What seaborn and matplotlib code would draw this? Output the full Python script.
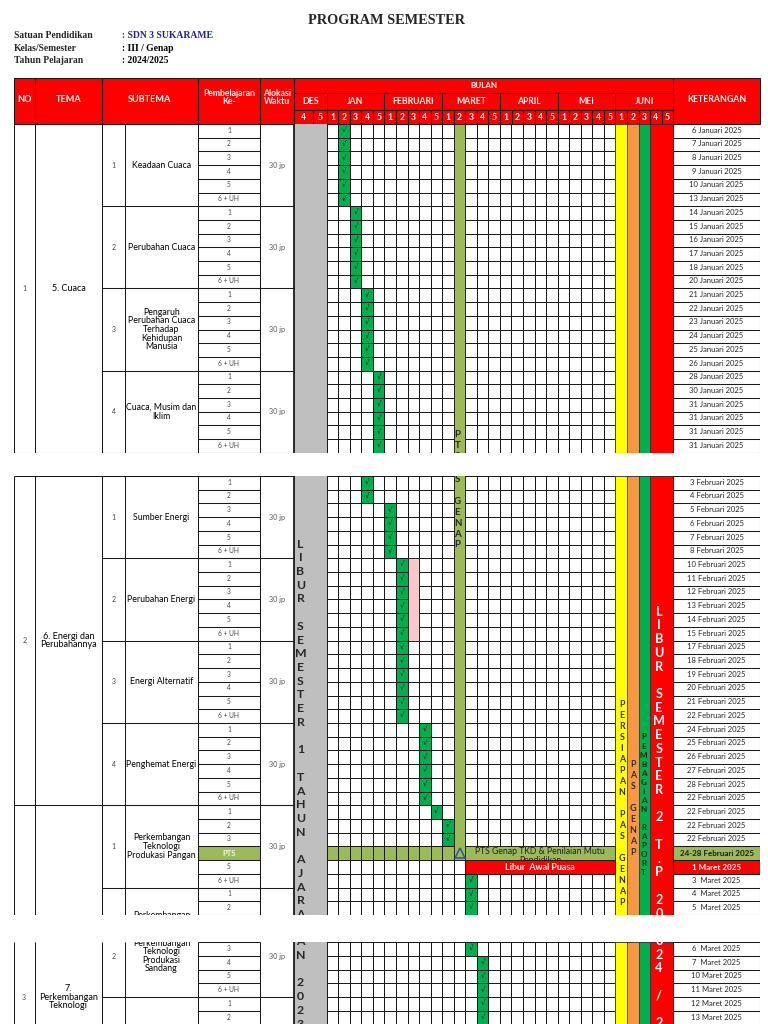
import numpy as np
import matplotlib
matplotlib.use("Agg")
import matplotlib.pyplot as plt
from matplotlib.colors import ListedColormap
from matplotlib.patches import Rectangle
import seaborn as sns

sns.set_theme(style="white")
plt.rcParams["font.family"] = ["Lato", "DejaVu Sans"]

# ---------------------------------------------------------------------------
# data
# ---------------------------------------------------------------------------
TITLE = "PROGRAM SEMESTER"
info_labels = ["Satuan Pendidikan", "Kelas/Semester", "Tahun Pelajaran"]
info_values = [": SDN 3 SUKARAME", ": III / Genap", ": 2024/2025"]

months = ["DES", "JAN", "FEBRUARI", "MARET", "APRIL", "MEI", "JUNI"]
des_weeks = ["4", "5"]
month_weeks = ["1", "2", "3", "4", "5"]

tema_no = ["1", "2", "3"]
tema_names = ["5. Cuaca", "6. Energi dan\nPerubahannya", "7.\nPerkembangan\nTeknologi"]
tema_len = [24, 24, 24]

subtema_no = ["1", "2", "3", "4", "1", "2", "3", "4", "1", "2", "3"]
subtema_names = [
    "Keadaan Cuaca", "Perubahan Cuaca",
    "Pengaruh\nPerubahan Cuaca\nTerhadap\nKehidupan\nManusia",
    "Cuaca, Musim dan\nIklim",
    "Sumber Energi", "Perubahan Energi", "Energi Alternatif", "Penghemat Energi",
    "Perkembangan\nTeknologi\nProdukasi Pangan",
    "Perkembangan\nTeknologi\nProdukasi\nSandang",
    "",
]
subtema_len = [6] * 11
alokasi = ["30 jp"] * 10 + [""]

pembelajaran = (["1", "2", "3", "4", "5", "6 + UH"] * 8
                + ["1", "2", "3", "PTS", "5", "6 + UH"]
                + ["1", "2", "3", "4", "5", "6 + UH"]
                + ["1", "2"])

# week column of the check mark per row (0 = JAN week 1, -1 = none)
check_week = ([1] * 6 + [2] * 6 + [3] * 6 + [4] * 6
              + [3, 3, 5, 5, 5, 5] + [6] * 6 + [6] * 6 + [8] * 6
              + [9, 10, 10, -1, -1, 12] + [12, 12, 12, 13, 13, 13] + [13, 13])
pink_rows = [30, 31, 32, 33, 34, 35]
pink_week = 7
pts_week = 11
pts_row = 51
libur_row = 52

keterangan = [
    "6 Januari 2025", "7 Januari 2025", "8 Januari 2025", "9 Januari 2025", "10 Januari 2025", "13 Januari 2025",
    "14 Januari 2025", "15 Januari 2025", "16 Januari 2025", "17 Januari 2025", "18 Januari 2025", "20 Januari 2025",
    "21 Januari 2025", "22 Januari 2025", "23 Januari 2025", "24 Januari 2025", "25 Januari 2025", "26 Januari 2025",
    "28 Januari 2025", "30 Januari 2025", "31 Januari 2025", "31 Januari 2025", "31 Januari 2025", "31 Januari 2025",
    "3 Februari 2025", "4 Februari 2025", "5 Februari 2025", "6 Februari 2025", "7 Februari 2025", "8 Februari 2025",
    "10 Februari 2025", "11 Februari 2025", "12 Februari 2025", "13 Februari 2025", "14 Februari 2025", "15 Februari 2025",
    "17 Februari 2025", "18 Februari 2025", "19 Februari 2025", "20 Februari 2025", "21 Februari 2025", "22 Februari 2025",
    "24 Februari 2025", "25 Februari 2025", "26 Februari 2025", "27 Februari 2025", "28 Februari 2025", "22 Februari 2025",
    "22 Februari 2025", "22 Februari 2025", "22 Februari 2025", "24-28 Februari 2025", "1 Maret 2025", "3  Maret 2025",
    "4  Maret 2025", "5  Maret 2025",
    "6  Maret 2025", "7  Maret 2025", "10 Maret 2025", "11 Maret 2025", "12 Maret 2025", "13 Maret 2025",
]

pts_label = "PTS Genap TKD & Penilaian Mutu\nPendidikan"
libur_label = "Libur  Awal Puasa"
juni_colors = ["#ffff00", "#f79646", "#00b050", "#ff0000"]

# vertical banners: text, x centre (px), first row, row step, style
banners = [
    ("LIBUR SEMESTER 1 TAHUN AJARAN 2023/2024", 300.5, 28.96, 1.0,
     dict(fontsize=8.8, weight="bold", color="#262626")),
    ("PTS GENAP", 457.5, 22.7, 0.79, dict(fontsize=7.0, weight="bold", color="#262626")),
    ("PERSIAPAN PAS GENAP", 621.8, 40.69, 0.80, dict(fontsize=6.4, weight="bold", color="#303030")),
    ("PAS GENAP", 632.8, 45.06, 0.80, dict(fontsize=6.4, weight="bold", color="#303030")),
    ("PEMBAGIAN RAPORT", 643.6, 43.02, 0.66, dict(fontsize=5.9, weight="bold", color="#1e1e1e")),
    ("LIBUR SEMESTER 2 T.P 2024 / 2025", 659.0, 33.89, 1.0,
     dict(fontsize=9.2, weight="bold", color="white")),
]

# ---------------------------------------------------------------------------
# layout (pixels)
# ---------------------------------------------------------------------------
W, H = 768, 1024
X_NO, X_TEMA, X_SUBNO, X_SUBNAME = 13.5, 35.0, 102.0, 125.0
X_PEMB, X_ALOK, X_DES, X_DES_MID = 198.0, 260.0, 294.0, 312.7
X_GRID, CELL_W = 326.7, 11.55
N_WEEKS = 30
X_KET = X_GRID + N_WEEKS * CELL_W
X_RIGHT = 760.0
HY = [78.3, 93.3, 110.0, 124.0]
SECTIONS = [(0, 24, 124.0, 13.70), (24, 56, 476.0, 13.72), (56, 62, 942.3, 13.72)]

RED, OLIVE, GRAY = "#ff0000", "#9bbb59", "#bfbfbf"
LINE = "#1a1a1a"
LW = 0.75


def to_u(x):
    return (x - X_GRID) / CELL_W


def box(ax, x0, x1, y0, y1, fc, ec=LINE, lw=LW, z=2):
    ax.add_patch(Rectangle((x0, y0), x1 - x0, y1 - y0, facecolor=fc,
                           edgecolor=ec, linewidth=lw, zorder=z))


fig = plt.figure(figsize=(W / 100, H / 100), dpi=100)

# ---------------------------------------------------------------------------
# page header and table header
# ---------------------------------------------------------------------------
top = fig.add_axes([0, 0, 1, 1])
top.set_xlim(0, W)
top.set_ylim(H, 0)
top.axis("off")

serif = ["Liberation Serif", "DejaVu Serif"]
top.text(386, 20, TITLE, ha="center", va="center", fontsize=10.3, weight="bold", family=serif)
for i, (lab, val) in enumerate(zip(info_labels, info_values)):
    yy = 35.7 + i * 12.5
    top.text(X_NO, yy, lab, ha="left", va="center", fontsize=6.9, weight="bold", family=serif)
    top.text(121.7, yy, val, ha="left", va="center", fontsize=6.9, weight="bold", family=serif,
             color="#22228b" if i == 0 else "black")

hdr = dict(color="white", weight="bold", ha="center", va="center", zorder=5)
for x0, x1, lab, fs in [(X_NO, X_TEMA, "NO", 6.6), (X_TEMA, X_SUBNO, "TEMA", 6.6),
                        (X_SUBNO, X_PEMB, "SUBTEMA", 6.6), (X_PEMB, X_ALOK, "Pembelajaran\nKe-", 6.2),
                        (X_ALOK, X_DES, "Alokasi\nWaktu", 6.2), (X_KET, X_RIGHT, "KETERANGAN", 6.3)]:
    box(top, x0, x1, HY[0], HY[3], RED)
    yy = 99.3 if "\n" not in lab else 97.6
    top.text((x0 + x1) / 2, yy, lab, fontsize=fs, linespacing=0.8, **hdr)

box(top, X_DES, X_KET, HY[0], HY[1], RED)
top.text((X_DES + X_KET) / 2, (HY[0] + HY[1]) / 2, "BULAN", fontsize=5.8, **hdr)

box(top, X_DES, X_GRID, HY[1], HY[2], RED)
top.text((X_DES + X_GRID) / 2, (HY[1] + HY[2]) / 2, months[0], fontsize=6.2, **hdr)
for x0, x1, wk in [(X_DES, X_DES_MID, des_weeks[0]), (X_DES_MID, X_GRID, des_weeks[1])]:
    box(top, x0, x1, HY[2], HY[3], RED)
    top.text((x0 + x1) / 2, (HY[2] + HY[3]) / 2, wk, fontsize=6.2, **hdr)
for m, name in enumerate(months[1:]):
    mx0 = X_GRID + m * 5 * CELL_W
    box(top, mx0, mx0 + 5 * CELL_W, HY[1], HY[2], RED)
    top.text(mx0 + 2.5 * CELL_W, (HY[1] + HY[2]) / 2, name, fontsize=6.2, **hdr)
    for k, wk in enumerate(month_weeks):
        wx0 = mx0 + k * CELL_W
        box(top, wx0, wx0 + CELL_W, HY[2], HY[3], RED)
        top.text(wx0 + CELL_W / 2, (HY[2] + HY[3]) / 2, wk, fontsize=6.2, **hdr)

# ---------------------------------------------------------------------------
# body grid
# ---------------------------------------------------------------------------
n_rows = len(pembelajaran)
grid = np.zeros((n_rows, N_WEEKS))
for r, c in enumerate(check_week):
    if c >= 0:
        grid[r, c] = 1
grid[pink_rows, pink_week] = 2
grid[:pts_row + 1, pts_week] = 3
grid[pts_row, :pts_week] = 3
checks = np.where(grid == 1, "\u221a", "")
cmap = ListedColormap(["#ffffff", "#00b050", "#f8c8cc", OLIVE])

tema_bounds = np.concatenate([[0], np.cumsum(tema_len)])
sub_bounds = np.concatenate([[0], np.cumsum(subtema_len)])

for r0, r1, y_top, rh in SECTIONS:
    n = r1 - r0
    ax = fig.add_axes([X_NO / W, 1 - (y_top + n * rh) / H, (X_RIGHT - X_NO) / W, n * rh / H])
    sns.heatmap(grid[r0:r1], ax=ax, cmap=cmap, vmin=-0.5, vmax=3.5, cbar=False,
                linewidths=0.7, linecolor=LINE, annot=checks[r0:r1], fmt="",
                annot_kws={"fontsize": 5, "color": "#111111", "family": "DejaVu Sans"},
                xticklabels=False, yticklabels=False)
    ax.set_xlim(to_u(X_NO), to_u(X_RIGHT))
    ax.set_ylim(n, 0)
    ax.axis("off")

    def rect(x0, x1, ra, rb, fc, ec=LINE, lw=LW, z=2):
        ax.add_patch(Rectangle((x0, ra - r0), x1 - x0, rb - ra, facecolor=fc,
                               edgecolor=ec, linewidth=lw, zorder=z, clip_on=True))

    def txt(x, r, s, margin=0.5, **kw):
        # only texts that reach into this page strip; the strip clips the rest
        if not s or r < r0 - margin or r > r1 + margin:
            return
        kw.setdefault("zorder", 6)
        ax.text(to_u(x), r - r0, s, ha="center", va="center", clip_on=True, **kw)

    # merged coloured columns
    rect(to_u(X_DES), 0, r0, r1, GRAY, ec="none")
    rect(pts_week, pts_week + 1, 0, pts_row + 1, OLIVE, lw=0.6)
    rect(pink_week, pink_week + 1, pink_rows[0], pink_rows[-1] + 1, "#f8c8cc", lw=0.6)
    for k, col in enumerate(juni_colors):
        c0 = 25 + k
        rect(c0, c0 + (1 if k < 3 else 2), r0, r1, col, ec="#333333", lw=0.5)

    # PTS / libur merged rows
    if r0 <= pts_row < r1:
        rect(12, 25, pts_row, pts_row + 1, OLIVE, lw=0.6, z=3)
        ax.text(18.5, pts_row - r0 + 0.02, pts_label, ha="center", va="top", fontsize=6.2,
                color="#1f1f1f", linespacing=1.05, clip_on=True, zorder=4)
        ax.plot(pts_week + 0.5, pts_row + 0.5 - r0, marker="^", ms=6.5, mfc="none",
                mec="#2e5597", mew=1.1, zorder=5, clip_on=True)
        rect(12, 25, libur_row, libur_row + 1, RED, lw=0.6, z=5)
        txt(X_GRID + 18.5 * CELL_W, libur_row + 0.5, libur_label, fontsize=6.4,
            color="white", weight="bold", zorder=7)

    # left column lines
    ax.vlines([to_u(x) for x in (X_NO, X_TEMA, X_SUBNO, X_SUBNAME, X_PEMB, X_ALOK)],
              0, n, colors=LINE, lw=LW, zorder=4)
    ax.vlines(to_u(X_DES), 0, n, colors=LINE, lw=1.3, zorder=4)
    ax.hlines([b - r0 for b in tema_bounds], to_u(X_NO), to_u(X_DES), colors=LINE, lw=LW, zorder=4)
    ax.hlines([b - r0 for b in sub_bounds], to_u(X_SUBNO), to_u(X_DES), colors=LINE, lw=LW, zorder=4)
    ax.hlines(np.arange(0, n + 1), to_u(X_PEMB), to_u(X_ALOK), colors=LINE, lw=LW, zorder=4)

    # keterangan column
    rect(to_u(X_KET), to_u(X_RIGHT), pts_row, pts_row + 1, OLIVE, ec="none")
    rect(to_u(X_KET), to_u(X_RIGHT), libur_row, libur_row + 1, RED, ec="none")
    rect(to_u(X_PEMB), to_u(X_ALOK), pts_row, pts_row + 1, OLIVE, ec="none")
    ax.hlines(np.arange(0, n + 1), to_u(X_KET), to_u(X_RIGHT), colors=LINE, lw=LW, zorder=4)
    ax.vlines([to_u(X_KET), to_u(X_RIGHT)], 0, n, colors=LINE, lw=LW, zorder=4)

    # texts
    for i in range(len(tema_no)):
        c = (tema_bounds[i] + tema_bounds[i + 1]) / 2
        txt((X_NO + X_TEMA) / 2, c, tema_no[i], fontsize=5, color="#444444")
        txt((X_TEMA + X_SUBNO) / 2, c, tema_names[i], margin=2.0, fontsize=6.5, color="black",
            linespacing=0.95)
    for i in range(len(subtema_no)):
        c = (sub_bounds[i] + sub_bounds[i + 1]) / 2
        txt((X_SUBNO + X_SUBNAME) / 2, c, subtema_no[i], fontsize=5, color="#444444")
        txt((X_SUBNAME + X_PEMB) / 2, c, subtema_names[i], margin=2.5, fontsize=6.3,
            color="black", linespacing=0.95)
        txt((X_ALOK + X_DES) / 2, c, alokasi[i], fontsize=5.2, color="#555555")
    for r in range(r0, r1):
        if r == pts_row:
            txt((X_PEMB + X_ALOK) / 2, r + 0.5, pembelajaran[r], fontsize=5.6, color="#f2f7e6",
                weight="bold")
        else:
            txt((X_PEMB + X_ALOK) / 2, r + 0.45, pembelajaran[r], fontsize=4.8, color="#444444")
        if r == pts_row:
            txt((X_KET + X_RIGHT) / 2, r + 0.5, keterangan[r], fontsize=5.8, color="#1a1a1a",
                weight="bold")
        elif r == libur_row:
            txt((X_KET + X_RIGHT) / 2, r + 0.5, keterangan[r], fontsize=5.8, color="white",
                weight="bold")
        else:
            txt((X_KET + X_RIGHT) / 2, r + 0.45, keterangan[r], fontsize=5.5, color="#262626")

    # vertical banners
    for label, xc, start, step, style in banners:
        for k, ch in enumerate(label):
            if ch != " ":
                txt(xc, start + k * step, ch, margin=0.3, zorder=8, **style)

fig.savefig("out.png", dpi=100, facecolor="white")
